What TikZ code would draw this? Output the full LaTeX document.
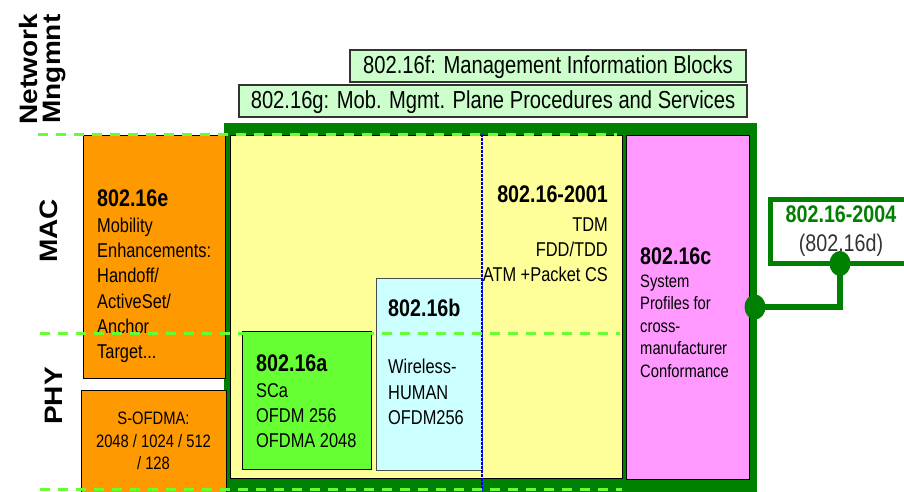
\documentclass[tikz,border=0pt]{standalone}
\usepackage{fontspec}
\setmainfont{Liberation Sans}[FakeStretch=0.82]
\newfontfamily\sidefont{Liberation Sans}
\usetikzlibrary{shapes.geometric}
\definecolor{frame}{RGB}{0,128,0}
\definecolor{macyellow}{RGB}{255,255,153}
\definecolor{profpink}{RGB}{255,153,255}
\definecolor{moborange}{RGB}{255,153,0}
\definecolor{phygreen}{RGB}{102,255,51}
\definecolor{humanblue}{RGB}{204,255,255}
\definecolor{mgmtgreen}{RGB}{204,255,204}
\definecolor{layerline}{RGB}{102,255,51}
\definecolor{splitblue}{RGB}{0,0,220}
\newcommand\stdhead[1]{{\fontsize{24}{25}\selectfont\bfseries #1}}

\begin{document}
\begin{tikzpicture}[x=1pt,y=-1pt,
        box/.style={draw=black, line width=1pt},
        layer/.style={draw=layerline, line width=3pt, dash pattern=on 10pt off 8pt},
        mgmt/.style={draw=black!80, line width=1.5pt, fill=mgmtgreen, inner sep=0pt,
                        minimum height=32pt, text height=18pt, text depth=3pt,
                        font=\fontsize{24.6}{26}\selectfont},
        txt/.style={inner sep=0pt, align=left, font=\fontsize{20}{25.3}\selectfont},
        small/.style={inner sep=0pt, align=left, font=\fontsize{18}{22.5}\selectfont},
        side/.style={rotate=90, inner sep=0pt, font=\fontsize{28}{28}\sidefont\bfseries},
        dot/.style={ellipse, fill=frame, inner sep=0pt,
                        minimum width=21pt, minimum height=25pt}]
    \useasboundingbox (0,0) rectangle (904,491);
    \clip (0,0) rectangle (904,491);
    \fill[frame] (224,123) rectangle (757,495);
    \draw[box, fill=macyellow] (230,135) rectangle (622,478);
    \draw[box, fill=profpink] (626,135) rectangle (749,479);
    \draw[box, fill=moborange] (83,135) rectangle (225,378);
    \draw[box, fill=moborange] (81,390) rectangle (226,492);
    \draw[box, fill=phygreen] (242,331) rectangle (371,469);
    \draw[draw=black!70, line width=1pt, fill=humanblue] (376,278) rectangle (482,470);
    \draw[splitblue, line width=2pt, dash pattern=on 2.5pt off 1.5pt] (482,134) -- (482,491);

    \node[txt, anchor=north west] (mob) at (97,190)
        {\stdhead{802.16e}\\Mobility\\Enhancements:\\Handoff/\\ActiveSet/\\Anchor\\Target...};
    \node[txt, anchor=north east, align=right] (std2001) at (608,186)
        {\stdhead{802.16-2001}\\[3pt]TDM\\FDD/TDD\\ATM +Packet CS};
    \node[txt, anchor=north west] (wman) at (388,299)
        {\stdhead{802.16b}\\[32pt]Wireless-\\HUMAN\\OFDM256};
    \node[txt, anchor=north west] (ofdm) at (256,355)
        {\stdhead{802.16a}\\SCa\\OFDM 256\\OFDMA 2048};
    \node[small, anchor=north, align=center] (sofdma) at (153.5,412)
        {S-OFDMA:\\2048 / 1024 / 512\\/ 128};
    \node[small, anchor=north west] (prof) at (640,248)
        {\stdhead{802.16c}\\System\\Profiles for\\cross-\\manufacturer\\Conformance};

    \draw[layer] (38,134) -- (617,134)
                 (40,333) -- (620,333)
                 (40,489) -- (622,489);

    \node[mgmt, minimum width=396pt] (mib) at (548,66) {802.16f: Management Information Blocks};
    \node[mgmt, minimum width=508pt] (mobplane) at (493,101) {802.16g: Mob. Mgmt. Plane Procedures and Services};

    \node[side] (net) at (28.5,69) {\scalebox{1}[0.9]{Network}};
    \node[side] (mng) at (55,69) {\scalebox{1}[0.9]{Mngmnt}};
    \node[side] (mac) at (49,231) {\scalebox{1}[0.9]{MAC}};
    \node[side] (phy) at (53.5,396) {\scalebox{1}[0.9]{PHY}};

    \node[draw=frame, line width=5pt, fill=white, minimum width=141pt, minimum height=64pt,
          inner sep=0pt, align=center, font=\fontsize{24}{29}\selectfont] (std2004) at (841,231.5)
        {\textcolor{frame}{\bfseries 802.16-2004}\\\textcolor{black!80}{(802.16d)}};
    \node[dot] (jframe) at (755,307) {};
    \node[dot] (jstd) at (840,263.5) {};
    \draw[frame, line width=6pt] (jframe.center) -| (jstd.center);
\end{tikzpicture}
\end{document}
